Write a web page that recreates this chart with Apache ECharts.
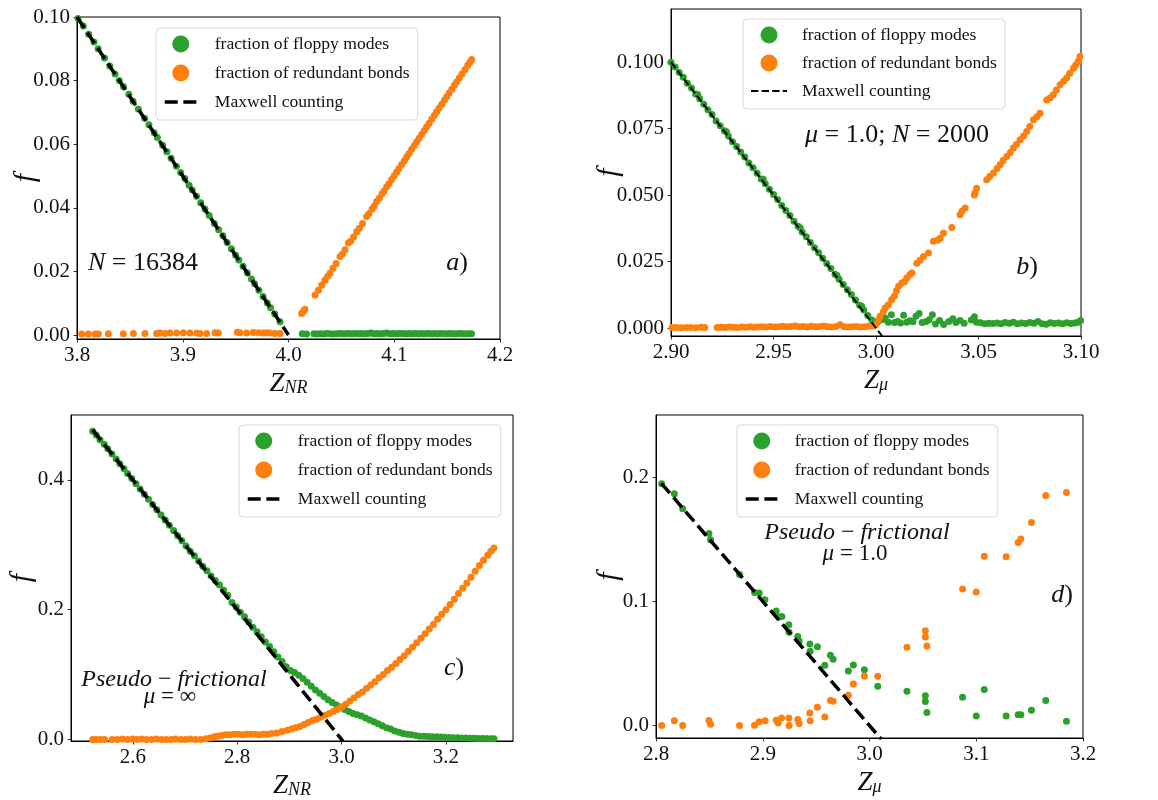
<!DOCTYPE html>
<html>
<head>
<meta charset="utf-8">
<script src="https://cdn.jsdelivr.net/npm/echarts@6/dist/echarts.min.js"></script>
<style>html,body{margin:0;padding:0;background:#fff;}#c{width:1158px;height:800px;}</style>
</head>
<body>
<div id="c"></div>
<script>
// ---------------- DATA ----------------
const seriesNames = ['fraction of floppy modes', 'fraction of redundant bonds', 'Maxwell counting'];

// Panel a (N = 16384)
const aXTicks = [3.8, 3.9, 4.0, 4.1, 4.2];
const aYTicks = [0, 0.02, 0.04, 0.06, 0.08, 0.10];
const aFloppy = [
 [3.801,0.0995],[3.806,0.0972],[3.811,0.0946],[3.816,0.0921],[3.820,0.0900],[3.826,0.0871],[3.831,0.0846],[3.836,0.0821],[3.840,0.0800],[3.844,0.0781],
 [3.849,0.0757],[3.853,0.0735],[3.858,0.0711],[3.864,0.0682],[3.868,0.0661],[3.873,0.0636],[3.876,0.0621],[3.881,0.0597],[3.885,0.0576],[3.889,0.0556],
 [3.894,0.0531],[3.898,0.0511],[3.902,0.0492],[3.906,0.0471],[3.909,0.0456],[3.913,0.0436],[3.917,0.0416],[3.921,0.0396],[3.925,0.0376],[3.930,0.0351],
 [3.934,0.0331],[3.938,0.0312],[3.942,0.0291],[3.946,0.0271],[3.950,0.0251],[3.953,0.0236],[3.957,0.0216],[3.961,0.0196],[3.965,0.0176],[3.968,0.0161],
 [3.972,0.0141],[3.976,0.0121],[3.980,0.0101],[3.983,0.0086],[3.987,0.0066],[3.992,0.0042],
 [4.013,0.0004],[4.017,0.0003],[4.024,0.0004],[4.027,0.0003],[4.030,0.0004],[4.033,0.0003],[4.036,0.0005],[4.039,0.0004],[4.042,0.0003],[4.045,0.0004],
 [4.048,0.0005],[4.051,0.0004],[4.054,0.0004],[4.057,0.0005],[4.060,0.0004],[4.063,0.0005],[4.066,0.0004],[4.069,0.0005],[4.072,0.0004],[4.075,0.0005],
 [4.078,0.0006],[4.081,0.0004],[4.084,0.0005],[4.087,0.0004],[4.090,0.0005],[4.093,0.0006],[4.096,0.0004],[4.099,0.0005],[4.102,0.0004],[4.105,0.0005],
 [4.108,0.0005],[4.111,0.0004],[4.114,0.0005],[4.117,0.0004],[4.120,0.0005],[4.123,0.0004],[4.126,0.0005],[4.129,0.0004],[4.132,0.0005],[4.135,0.0004],
 [4.138,0.0005],[4.141,0.0004],[4.144,0.0005],[4.147,0.0004],[4.150,0.0004],[4.153,0.0005],[4.156,0.0004],[4.159,0.0004],[4.162,0.0005],[4.165,0.0004],
 [4.168,0.0004],[4.171,0.0004],[4.173,0.0004]
];
const aRedundant = [
 [3.8044,0.0003],[3.8107,0.0003],[3.8170,0.0003],[3.8202,0.0003],[3.8296,0.0004],[3.8438,0.0004],[3.8533,0.0005],[3.8643,0.0005],[3.8753,0.0005],[3.8785,0.0006],
 [3.8832,0.0005],[3.8879,0.0006],[3.8942,0.0006],[3.9006,0.0007],[3.9069,0.0006],[3.9132,0.0006],[3.9163,0.0005],[3.9226,0.0005],[3.9305,0.0007],[3.9336,0.0006],
 [3.9516,0.0009],[3.9541,0.0007],[3.9604,0.0006],[3.9667,0.0008],[3.9715,0.0007],[3.9762,0.0006],[3.9794,0.0007],[3.9825,0.0006],[3.9872,0.0005],[3.9920,0.0005],
 [4.0124,0.0068],[4.0140,0.0075],[4.0156,0.0081],[4.0251,0.0126],[4.0283,0.0141],[4.0314,0.0157],[4.0345,0.0172],[4.0370,0.0185],[4.0392,0.0194],[4.0420,0.0210],
 [4.0450,0.0225],[4.0487,0.0247],[4.0510,0.0255],[4.0535,0.0268],[4.0566,0.0289],[4.0590,0.0296],[4.0615,0.0308],[4.0645,0.0325],[4.0670,0.0336],[4.0700,0.0351],
 [4.0739,0.0373],[4.0760,0.0381],[4.0790,0.0396],[4.0810,0.0405],[4.0834,0.0420],[4.0860,0.0431],[4.0885,0.0444],[4.0905,0.0453],[4.0928,0.0466],[4.0950,0.0476],
 [4.0975,0.0489],[4.1000,0.0501],[4.1023,0.0513],[4.1045,0.0524],[4.1070,0.0536],[4.1095,0.0548],[4.1117,0.0560],[4.1140,0.0571],[4.1165,0.0584],[4.1190,0.0596],
 [4.1212,0.0607],[4.1235,0.0619],[4.1260,0.0631],[4.1285,0.0643],[4.1307,0.0655],[4.1330,0.0666],[4.1355,0.0679],[4.1380,0.0691],[4.1401,0.0702],[4.1425,0.0714],
 [4.1450,0.0726],[4.1475,0.0739],[4.1496,0.0749],[4.1520,0.0761],[4.1545,0.0773],[4.1570,0.0786],[4.1590,0.0796],[4.1615,0.0808],[4.1640,0.0821],[4.1669,0.0835],
 [4.1695,0.0848],[4.1715,0.0858],[4.1732,0.0866]
];
const aMaxwell = [[3.8,0.1],[4.0,0.0]];

// Panel b (mu = 1.0; N = 2000)
const bXTicks = [2.90, 2.95, 3.00, 3.05, 3.10];
const bYTicks = [0, 0.025, 0.05, 0.075, 0.1];
const bFloppy = [
 [2.900,0.1000],[2.902,0.0982],[2.904,0.0961],[2.906,0.0943],[2.908,0.0921],[2.910,0.0903],[2.912,0.0880],[2.913,0.0878],[2.914,0.0862],[2.916,0.0842],
 [2.918,0.0821],[2.920,0.0803],[2.922,0.0779],[2.924,0.0761],[2.926,0.0742],[2.927,0.0738],[2.928,0.0722],[2.930,0.0701],[2.932,0.0683],[2.934,0.0662],
 [2.936,0.0643],[2.938,0.0621],[2.940,0.0603],[2.942,0.0582],[2.944,0.0561],[2.945,0.0560],[2.946,0.0543],[2.948,0.0522],[2.950,0.0502],[2.952,0.0483],
 [2.954,0.0461],[2.956,0.0442],[2.958,0.0423],[2.960,0.0402],[2.962,0.0383],[2.963,0.0377],[2.964,0.0361],[2.966,0.0343],[2.968,0.0322],[2.970,0.0302],
 [2.972,0.0283],[2.974,0.0262],[2.976,0.0243],[2.978,0.0224],[2.980,0.0202],[2.981,0.0198],[2.982,0.0183],[2.984,0.0164],[2.986,0.0144],[2.988,0.0126],
 [2.990,0.0105],[2.992,0.0086],[2.993,0.0082],[2.994,0.0068],[2.996,0.0047],[2.998,0.0030],[2.999,0.0018],
 [3.0010,0.0025],[3.0030,0.0031],[3.0045,0.0038],[3.0060,0.0022],[3.0075,0.0050],[3.0090,0.0021],[3.0105,0.0025],[3.0120,0.0019],[3.0135,0.0048],[3.0150,0.0022],
 [3.0165,0.0027],[3.0180,0.0024],[3.0195,0.0044],[3.0210,0.0055],[3.0225,0.0021],[3.0245,0.0025],[3.0260,0.0031],[3.0275,0.0050],[3.0290,0.0015],[3.0310,0.0028],
 [3.0330,0.0013],[3.0355,0.0025],[3.0375,0.0035],[3.0390,0.0021],[3.0410,0.0028],[3.0430,0.0018],[3.0465,0.0030],[3.0480,0.0042],[3.0490,0.0022],[3.0510,0.0020],
 [3.0530,0.0016],[3.0550,0.0018],[3.0570,0.0017],[3.0590,0.0019],[3.0610,0.0016],[3.0630,0.0021],[3.0650,0.0018],[3.0670,0.0022],[3.0690,0.0016],[3.0710,0.0019],
 [3.0730,0.0017],[3.0750,0.0021],[3.0770,0.0018],[3.0790,0.0025],[3.0810,0.0016],[3.0830,0.0014],[3.0850,0.0020],[3.0870,0.0017],[3.0890,0.0019],[3.0910,0.0016],
 [3.0930,0.0020],[3.0950,0.0017],[3.0970,0.0019],[3.0985,0.0022],[3.0998,0.0028]
];
const bRedundant = [
 [2.9005,0.0002],[2.9025,0.0002],[2.9050,0.0001],[2.9075,0.0002],[2.9095,0.0002],[2.9120,0.0001],[2.9145,0.0003],[2.9165,0.0002],[2.9225,0.0002],[2.9245,0.0003],
 [2.9265,0.0002],[2.9285,0.0004],[2.9305,0.0003],[2.9325,0.0002],[2.9345,0.0004],[2.9365,0.0003],[2.9385,0.0005],[2.9405,0.0003],[2.9425,0.0004],[2.9445,0.0005],
 [2.9465,0.0004],[2.9485,0.0006],[2.9505,0.0004],[2.9525,0.0005],[2.9545,0.0007],[2.9565,0.0005],[2.9585,0.0006],[2.9605,0.0008],[2.9625,0.0005],[2.9645,0.0006],
 [2.9665,0.0004],[2.9685,0.0007],[2.9705,0.0005],[2.9725,0.0006],[2.9745,0.0008],[2.9765,0.0005],[2.9785,0.0004],[2.9805,0.0006],[2.9825,0.0012],[2.9845,0.0005],
 [2.9865,0.0004],[2.9885,0.0005],[2.9905,0.0006],[2.9925,0.0004],[2.9945,0.0005],[2.9965,0.0007],[2.9985,0.0008],
 [3.0000,0.0013],[3.0012,0.0030],[3.0020,0.0044],[3.0035,0.0060],[3.0045,0.0075],[3.0060,0.0088],[3.0077,0.0107],[3.0090,0.0120],[3.0100,0.0140],[3.0110,0.0157],
 [3.0126,0.0169],[3.0140,0.0175],[3.0150,0.0188],[3.0165,0.0200],[3.0175,0.0207],[3.0199,0.0244],[3.0215,0.0255],[3.0232,0.0269],[3.0256,0.0282],[3.0280,0.0326],
 [3.0300,0.0330],[3.0313,0.0338],[3.0329,0.0357],[3.0370,0.0378],[3.0410,0.0426],[3.0420,0.0440],[3.0435,0.0451],[3.0480,0.0500],[3.0483,0.0508],[3.0491,0.0526],
 [3.0540,0.0558],[3.0555,0.0570],[3.0573,0.0583],[3.0590,0.0600],[3.0605,0.0614],[3.0620,0.0630],[3.0638,0.0645],[3.0655,0.0660],[3.0670,0.0677],[3.0685,0.0690],
 [3.0703,0.0708],[3.0720,0.0722],[3.0735,0.0739],[3.0750,0.0758],[3.0768,0.0783],[3.0785,0.0795],[3.0800,0.0808],[3.0833,0.0858],[3.0850,0.0866],[3.0865,0.0877],
 [3.0880,0.0895],[3.0898,0.0915],[3.0915,0.0928],[3.0930,0.0940],[3.0945,0.0958],[3.0963,0.0977],[3.0975,0.0990],[3.0987,0.1003],[3.0995,0.1021]
];
const bMaxwell = [[2.9,0.1],[3.003,-0.003]];

// Panel c (pseudo-frictional, mu = infinity)
const cXTicks = [2.6, 2.8, 3.0, 3.2];
const cYTicks = [0, 0.2, 0.4];
const cFloppy = [
 [2.523,0.475],[2.530,0.469],[2.537,0.462],[2.545,0.455],[2.552,0.448],[2.560,0.440],[2.568,0.432],[2.575,0.425],[2.583,0.417],[2.590,0.410],
 [2.598,0.402],[2.606,0.394],[2.614,0.386],[2.622,0.378],[2.630,0.370],[2.638,0.362],[2.646,0.354],[2.654,0.346],[2.662,0.338],[2.670,0.330],
 [2.678,0.322],[2.686,0.314],[2.694,0.306],[2.702,0.298],[2.710,0.290],[2.718,0.283],[2.726,0.275],[2.734,0.267],[2.742,0.260],[2.750,0.252],
 [2.758,0.245],[2.766,0.238],[2.774,0.230],[2.782,0.222],[2.790,0.211],[2.798,0.204],[2.806,0.196],[2.814,0.189],[2.822,0.181],[2.830,0.173],
 [2.838,0.166],[2.846,0.158],[2.854,0.150],[2.862,0.143],[2.870,0.135],[2.878,0.127],[2.886,0.120],[2.894,0.112],[2.902,0.106],[2.910,0.103],
 [2.918,0.099],[2.926,0.094],[2.934,0.088],[2.942,0.082],[2.950,0.076],[2.958,0.071],[2.966,0.066],[2.974,0.061],[2.982,0.057],[2.990,0.053],
 [2.998,0.050],[3.006,0.046],[3.014,0.043],[3.022,0.040],[3.030,0.038],[3.038,0.036],[3.046,0.033],[3.054,0.030],[3.062,0.027],[3.070,0.024],
 [3.078,0.021],[3.086,0.018],[3.094,0.016],[3.102,0.013],[3.110,0.011],[3.118,0.009],[3.126,0.008],[3.134,0.007],[3.142,0.006],[3.150,0.005],
 [3.158,0.0048],[3.166,0.0045],[3.174,0.0042],[3.182,0.0040],[3.190,0.0035],[3.198,0.0032],[3.206,0.0028],[3.214,0.0025],[3.222,0.0025],[3.230,0.0022],
 [3.238,0.0020],[3.246,0.0018],[3.254,0.0016],[3.262,0.0015],[3.270,0.0013],[3.278,0.0012],[3.286,0.0011],[3.292,0.0010]
];
const cRedundant = [
 [2.523,0.000],[2.530,0.000],[2.538,0.000],[2.546,0.000],[2.560,0.000],[2.570,0.000],[2.580,0.0005],[2.590,0.000],[2.600,0.0005],[2.608,0.000],
 [2.617,0.0005],[2.626,0.000],[2.636,0.000],[2.645,0.0005],[2.655,0.000],[2.664,0.000],[2.673,0.000],[2.682,0.0005],[2.692,0.000],[2.701,0.000],
 [2.710,0.0005],[2.720,0.000],[2.730,0.000],[2.740,0.001],[2.748,0.002],[2.756,0.004],[2.762,0.005],[2.770,0.006],[2.778,0.007],[2.786,0.007],
 [2.794,0.008],[2.802,0.008],[2.810,0.007],[2.818,0.008],[2.826,0.008],[2.834,0.008],[2.842,0.007],[2.850,0.008],[2.858,0.008],[2.866,0.009],
 [2.876,0.010],[2.886,0.012],[2.896,0.014],[2.904,0.016],[2.912,0.018],[2.920,0.020],[2.928,0.023],[2.936,0.026],[2.944,0.029],[2.952,0.031],
 [2.960,0.034],[2.968,0.037],[2.976,0.040],[2.984,0.043],[2.992,0.046],[3.000,0.050],[3.008,0.054],[3.016,0.059],[3.024,0.064],[3.032,0.069],
 [3.040,0.073],[3.048,0.079],[3.056,0.084],[3.064,0.089],[3.072,0.095],[3.080,0.100],[3.088,0.106],[3.096,0.111],[3.104,0.117],[3.112,0.123],
 [3.120,0.129],[3.128,0.136],[3.136,0.142],[3.144,0.149],[3.152,0.156],[3.160,0.163],[3.168,0.170],[3.176,0.177],[3.184,0.185],[3.192,0.193],
 [3.200,0.200],[3.208,0.208],[3.216,0.216],[3.224,0.225],[3.232,0.233],[3.240,0.241],[3.248,0.250],[3.256,0.259],[3.264,0.268],[3.272,0.276],
 [3.280,0.284],[3.286,0.290],[3.292,0.295]
];
const cMaxwell = [[2.523,0.477],[3.003,-0.003]];

// Panel d (pseudo-frictional, mu = 1.0)
const dXTicks = [2.8, 2.9, 3.0, 3.1, 3.2];
const dYTicks = [0, 0.1, 0.2];
const dFloppy = [
 [2.8053,0.1946],[2.8172,0.1866],[2.8250,0.1745],[2.8496,0.1547],[2.8511,0.1496],[2.8783,0.1217],[2.8923,0.1072],[2.8967,0.1067],[2.9020,0.1013],[2.9126,0.0922],
 [2.9151,0.0874],[2.9179,0.0879],[2.9244,0.0812],[2.9247,0.0751],[2.9328,0.0718],[2.9341,0.0681],[2.9441,0.0657],[2.9444,0.0598],[2.9512,0.0635],[2.9581,0.0485],
 [2.9634,0.0566],[2.9659,0.0533],[2.9802,0.0440],[2.9849,0.0488],[2.9952,0.0450],[3.0077,0.0316],[3.0351,0.0276],[3.0523,0.0241],[3.0523,0.0193],[3.0538,0.0105],
 [3.0872,0.0228],[3.1000,0.0078],[3.1075,0.0290],[3.1280,0.0078],[3.1393,0.0088],[3.1418,0.0088],[3.1517,0.0123],[3.1651,0.0201],[3.1845,0.0035]
];
const dRedundant = [
 [2.8053,0.0000],[2.8172,0.0038],[2.8250,0.0000],[2.8496,0.0040],[2.8511,0.0010],[2.8783,0.0000],[2.8923,0.0003],[2.8967,0.0030],[2.9023,0.0038],[2.9126,0.0043],
 [2.9144,0.0020],[2.9176,0.0060],[2.9244,0.0060],[2.9247,0.0000],[2.9328,0.0048],[2.9341,0.0016],[2.9441,0.0102],[2.9444,0.0038],[2.9512,0.0147],[2.9581,0.0070],
 [2.9634,0.0201],[2.9659,0.0196],[2.9802,0.0244],[2.9849,0.0335],[2.9952,0.0399],[3.0077,0.0397],[3.0351,0.0630],[3.0523,0.0764],[3.0523,0.0713],[3.0538,0.0641],
 [3.0872,0.1099],[3.1000,0.1075],[3.1075,0.1362],[3.1280,0.1359],[3.1393,0.1474],[3.1418,0.1501],[3.1517,0.1635],[3.1651,0.1852],[3.1845,0.1876]
];
const dMaxwell = [[2.805,0.195],[3.011,-0.011]];

// ---------------- STYLE / LAYOUT ----------------
const FF = "'Liberation Serif', 'Times New Roman', serif";
const GREEN = '#2ca02c', ORANGE = '#ff7f0e';
const TXT = '#111';

const panels = [
  { grid:{left:77,top:17,width:423,height:322},
    x:{min:3.8,max:4.2,ticks:aXTicks,dec:1,sub:'NR',gap:31},
    y:{min:-0.00125,max:0.1,ticks:aYTicks,dec:2,gap:36},
    data:[aFloppy,aRedundant,aMaxwell], lw:3.5, dash:[13,5.6],
    legend:{left:156,top:28,itemWidth:32,gap:11,textPad:13} },
  { grid:{left:671,top:9,width:410,height:327},
    x:{min:2.9,max:3.1,ticks:bXTicks,dec:2,sub:'μ',gap:31},
    y:{min:-0.003,max:0.12,ticks:bYTicks,dec:3,gap:47},
    data:[bFloppy,bRedundant,bMaxwell], lw:2, dash:[7.4,3.2],
    legend:{left:743,top:19,itemWidth:36,gap:10,textPad:10} },
  { grid:{left:71,top:415,width:442,height:326},
    x:{min:2.4815,max:3.3285,ticks:cXTicks,dec:1,sub:'NR',gap:31},
    y:{min:-0.0025,max:0.5,ticks:cYTicks,dec:1,gap:34},
    data:[cFloppy,cRedundant,cMaxwell], lw:3.5, dash:[13,5.6],
    legend:{left:239,top:425,itemWidth:32,gap:11,textPad:13} },
  { grid:{left:656,top:415,width:427,height:323},
    x:{min:2.8,max:3.2,ticks:dXTicks,dec:1,sub:'μ',gap:31},
    y:{min:-0.01,max:0.25,ticks:dYTicks,dec:1,gap:32},
    data:[dFloppy,dRedundant,dMaxwell], lw:3.5, dash:[13,5.6],
    legend:{left:737,top:425,itemWidth:32,gap:11,textPad:12} }
];

const grids = [], xAxes = [], yAxes = [], series = [], legends = [];
panels.forEach((p, i) => {
  grids.push(Object.assign({show:true, borderColor:'#000', borderWidth:1, backgroundColor:'transparent'}, p.grid));
  xAxes.push({
    type:'value', gridIndex:i, min:p.x.min, max:p.x.max,
    name:'{z|Z}{s|' + p.x.sub + '}', nameLocation:'middle', nameGap:p.x.gap, nameMoveOverlap:false,
    nameTextStyle:{ rich:{
      z:{fontFamily:FF, fontStyle:'italic', fontSize:27, lineHeight:27, verticalAlign:'top', color:TXT},
      s:{fontFamily:FF, fontStyle:'italic', fontSize:18, lineHeight:12, verticalAlign:'bottom', color:TXT}
    }},
    axisLine:{show:true, onZero:false, lineStyle:{color:'#000', width:1}},
    axisTick:{show:true, length:3.5, customValues:p.x.ticks, lineStyle:{color:'#000', width:0.8}},
    axisLabel:{customValues:p.x.ticks, margin:6, fontFamily:FF, fontSize:21, color:TXT,
      formatter:(v)=>Number(v).toFixed(p.x.dec)},
    splitLine:{show:false}
  });
  yAxes.push({
    type:'value', gridIndex:i, min:p.y.min, max:p.y.max,
    name:'f', nameLocation:'middle', nameGap:p.y.gap, nameMoveOverlap:false,
    nameTextStyle:{fontFamily:FF, fontStyle:'italic', fontSize:30, color:TXT},
    axisLine:{show:true, onZero:false, lineStyle:{color:'#000', width:1}},
    axisTick:{show:true, length:3.5, customValues:p.y.ticks, lineStyle:{color:'#000', width:0.8}},
    axisLabel:{customValues:p.y.ticks, margin:7, fontFamily:FF, fontSize:21, color:TXT,
      formatter:(v)=>Number(v).toFixed(p.y.dec)},
    splitLine:{show:false}
  });
  series.push({
    name:seriesNames[0], type:'scatter', xAxisIndex:i, yAxisIndex:i, data:p.data[0],
    symbol:'circle', symbolSize:7, itemStyle:{color:GREEN, opacity:1}, emphasis:{disabled:true}
  });
  series.push({
    name:seriesNames[1], type:'scatter', xAxisIndex:i, yAxisIndex:i, data:p.data[1],
    symbol:'circle', symbolSize:7, itemStyle:{color:ORANGE, opacity:1}, emphasis:{disabled:true}
  });
  series.push({
    name:seriesNames[2], type:'line', xAxisIndex:i, yAxisIndex:i, data:p.data[2],
    symbol:'none', clip:true, lineStyle:{color:'#000', width:p.lw, type:p.dash}, itemStyle:{color:'#000'},
    emphasis:{disabled:true}
  });
  legends.push({
    orient:'vertical', left:p.legend.left, top:p.legend.top,
    itemWidth:p.legend.itemWidth, itemHeight:17, itemGap:p.legend.gap,
    padding:[7, 8, 9, 7],
    backgroundColor:'rgba(255,255,255,0.8)', borderColor:'#d9d9d9', borderWidth:1, borderRadius:4,
    selectedMode:false,
    textStyle:{fontFamily:FF, fontSize:17.6, color:TXT, padding:[0,0,0,p.legend.textPad]},
    data:[
      {name:seriesNames[0], icon:'circle', itemStyle:{color:GREEN}},
      {name:seriesNames[1], icon:'circle', itemStyle:{color:ORANGE}},
      {name:seriesNames[2], itemStyle:{color:'rgba(0,0,0,0)', opacity:0, borderWidth:0},
        lineStyle:{color:'#000', width:p.lw, type:p.dash}}
    ]
  });
});

function ann(x, y, text, size, rich) {
  return { type:'text', x:x, y:y, z:100, silent:true,
    style:{ text:text, fontFamily:FF, fontSize:size, fill:TXT, align:'center', verticalAlign:'middle',
      rich: rich || {} } };
}
const itRich = (s) => ({ i:{fontFamily:FF, fontStyle:'italic', fontSize:s, fill:TXT},
                         r:{fontFamily:FF, fontSize:s, fill:TXT} });

const graphics = [
  ann(143, 263, '{i|N}{r| = 16384}', 26, itRich(26)),
  ann(457, 263, '{i|a}{r|)}', 26, itRich(26)),
  ann(897, 135, '{i|μ}{r| = 1.0; }{i|N}{r| = 2000}', 26, itRich(26)),
  ann(1027, 267, '{i|b}{r|)}', 26, itRich(26)),
  ann(174, 680, '{i|Pseudo}{r| − }{i|frictional}', 24, itRich(24)),
  ann(170, 697, '{i|μ}{r| = ∞}', 23, itRich(23)),
  ann(454, 668, '{i|c}{r|)}', 26, itRich(26)),
  ann(857, 533, '{i|Pseudo}{r| − }{i|frictional}', 24, itRich(24)),
  ann(855, 554, '{i|μ}{r| = 1.0}', 23, itRich(23)),
  ann(1062, 595, '{i|d}{r|)}', 26, itRich(26))
];

const chart = echarts.init(document.getElementById('c'), null, {renderer:'canvas'});
chart.setOption({
  animation:false,
  backgroundColor:'#fff',
  grid:grids, xAxis:xAxes, yAxis:yAxes, series:series, legend:legends,
  graphic:graphics
});
</script>
</body>
</html>
